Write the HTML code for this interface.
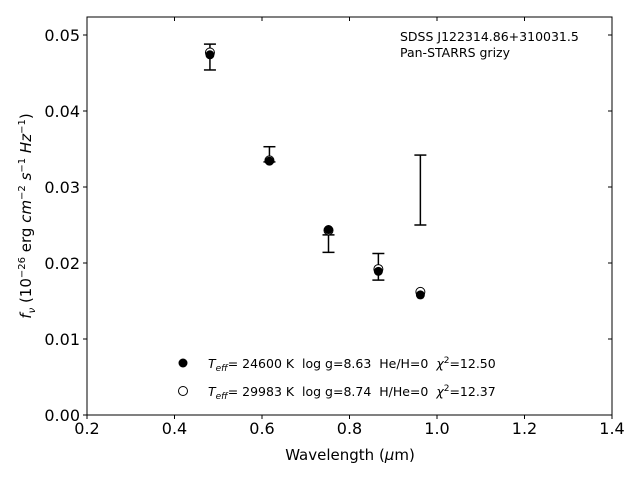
<!DOCTYPE html>
<html><head><meta charset="utf-8"><style>
body{margin:0;background:#fff;}
svg{display:block;font-family:"DejaVu Sans","Liberation Sans",sans-serif;}
text{white-space:pre;}
</style></head><body>
<svg id="chart" width="640" height="480">
<rect x="87" y="17" width="525" height="398" fill="none" stroke="#000" stroke-width="1"/>
<g id="ticks"></g>
<g id="marks"></g>
<text x="350" y="460" text-anchor="middle" font-size="15">Wavelength (<tspan font-style="italic">μ</tspan>m)</text>
<text transform="translate(31,216) rotate(-90)" text-anchor="middle" font-size="15"><tspan font-style="italic">f<tspan font-size="10" dy="4">ν</tspan></tspan><tspan dy="-4"> (10</tspan><tspan font-size="10" dy="-6">−26</tspan><tspan dy="6"> erg </tspan><tspan font-style="italic">cm</tspan><tspan font-size="10" dy="-6">−2</tspan><tspan dy="6"> </tspan><tspan font-style="italic">s</tspan><tspan font-size="10" dy="-6">−1</tspan><tspan dy="6"> </tspan><tspan font-style="italic">Hz</tspan><tspan font-size="10" dy="-6">−1</tspan><tspan dy="6">)</tspan></text>
<text x="400" y="41" font-size="12.5">SDSS J122314.86+310031.5</text>
<text x="400" y="57" font-size="12.5">Pan-STARRS grizy</text>
<g>
<circle cx="183" cy="363" r="4.5" fill="#000"/>
<text x="208" y="368" font-size="12.5"><tspan font-style="italic">T</tspan><tspan font-style="italic" font-size="9" dy="3">eff</tspan><tspan dy="-3">= 24600 K  log g=8.63  He/H=0  </tspan><tspan font-style="italic">χ</tspan><tspan font-size="9" dy="-5">2</tspan><tspan dy="5">=12.50</tspan></text>
<circle cx="183" cy="391" r="4.5" fill="#fff" stroke="#000" stroke-width="1"/>
<text x="208" y="396" font-size="12.5"><tspan font-style="italic">T</tspan><tspan font-style="italic" font-size="9" dy="3">eff</tspan><tspan dy="-3">= 29983 K  log g=8.74  H/He=0  </tspan><tspan font-style="italic">χ</tspan><tspan font-size="9" dy="-5">2</tspan><tspan dy="5">=12.37</tspan></text>
</g>
</svg>
<script>
const xTicks=[0.2,0.4,0.6,0.8,1.0,1.2,1.4];
const xTickLabels=["0.2","0.4","0.6","0.8","1.0","1.2","1.4"];
const yTicks=[0,0.01,0.02,0.03,0.04,0.05];
const yTickLabels=["0.00","0.01","0.02","0.03","0.04","0.05"];
const wavelengths=[0.481,0.617,0.752,0.866,0.962];
const obsFlux=[0.0471,0.0343,0.02255,0.0195,0.0296];
const obsErr=[0.0017,0.0010,0.00115,0.00175,0.0046];
const modelHe=[0.0474,0.0334,0.0244,0.0189,0.0158];
const modelH=[0.0477,0.0335,0.0243,0.0192,0.0162];
const X=v=>87+(v-0.2)*437.5;
const Y=v=>415-v*7600;
const NS="http://www.w3.org/2000/svg";
function mk(tag,attrs,parent){const e=document.createElementNS(NS,tag);for(const k in attrs)e.setAttribute(k,attrs[k]);parent.appendChild(e);return e;}
const tg=document.getElementById('ticks'), mg=document.getElementById('marks');
xTicks.forEach((v,i)=>{
 const t=mk('line',{x1:X(v),x2:X(v),y1:415,y2:419,stroke:'#000'},tg);
 
 
 const t2=mk('line',{x1:X(v),x2:X(v),y1:17,y2:21,stroke:'#000'},tg);
 
 
 const l=mk('text',{x:X(v),y:434,'text-anchor':'middle','font-size':16},tg);l.textContent=xTickLabels[i];
 
 
});
yTicks.forEach((v,i)=>{
 const t=mk('line',{x1:83,x2:87,y1:Y(v),y2:Y(v),stroke:'#000'},tg);
 
 
 const t2=mk('line',{x1:612,x2:608,y1:Y(v),y2:Y(v),stroke:'#000'},tg);
 
 
 const l=mk('text',{x:80,y:Y(v)+6,'text-anchor':'end','font-size':16},tg);l.textContent=yTickLabels[i];
 
 
});
wavelengths.forEach((w,i)=>{
 const x=X(w),t=Y(obsFlux[i]+obsErr[i]),b=Y(obsFlux[i]-obsErr[i]);
 const g=mk('g',{stroke:'#000','stroke-width':1.5},mg);
 
 
 mk('line',{x1:x,x2:x,y1:t,y2:b},g);
 mk('line',{x1:x-6,x2:x+6,y1:t,y2:t},g);
 mk('line',{x1:x-6,x2:x+6,y1:b,y2:b},g);
 const o=mk('circle',{cx:x,cy:Y(modelH[i]),r:4.5,fill:'#fff',stroke:'#000','stroke-width':1},mg);
 
 
 const f=mk('circle',{cx:x,cy:Y(modelHe[i]),r:4.5,fill:'#000'},mg);
 
 
});
</script>
</body></html>
